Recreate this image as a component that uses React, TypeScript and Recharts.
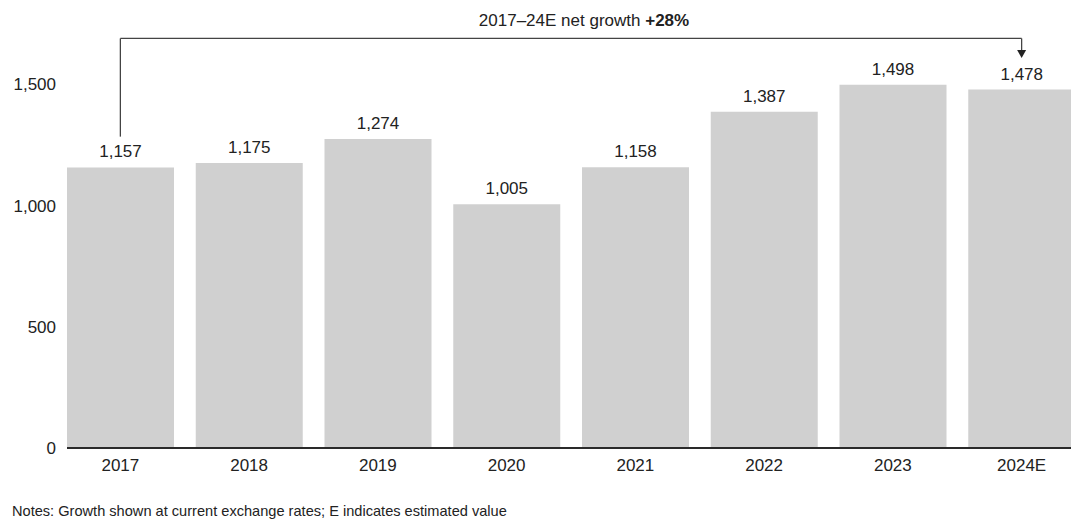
import { BarChart, Bar, XAxis, YAxis, LabelList, ReferenceLine, Label } from "recharts";

const YEARS = ["2017", "2018", "2019", "2020", "2021", "2022", "2023", "2024E"];
const VALUES = [1157, 1175, 1274, 1005, 1158, 1387, 1498, 1478];
const Y_TICKS = [0, 500, 1000, 1500];

// bracket levels, in data units
const BRACKET_TOP = 1689;
const BRACKET_START = 1284;
const BRACKET_END = 1608;

const NOTE = "Notes: Growth shown at current exchange rates; E indicates estimated value";

const data = YEARS.map((year, i) => ({ year, value: VALUES[i] }));

const TEXT = "#222222";
const FONT = "'Liberation Sans', Arial, sans-serif";

function fmt(v: number | string) {
  return Number(v).toLocaleString("en-US");
}

function ArrowLine(props: any) {
  const { x1, y1, x2, y2 } = props;
  const head = 8;
  return (
    <g>
      <line x1={x1} y1={y1} x2={x2} y2={y2 - head} stroke="#444" strokeWidth={1.3} />
      <polygon
        points={`${x2 - 4.5},${y2 - head} ${x2 + 4.5},${y2 - head} ${x2},${y2}`}
        fill="#222"
      />
    </g>
  );
}

function TitleLabel(props: any) {
  const vb = props.viewBox || { x: 120, y: 38, width: 902 };
  const cx = vb.x + vb.width / 2 + 13;
  return (
    <text x={cx} y={vb.y - 12} textAnchor="middle" fill={TEXT} fontSize={17} fontFamily={FONT}>
      2017–24E net growth <tspan fontWeight="bold">+28%</tspan>
    </text>
  );
}

export default function App() {
  return (
    <div
      style={{
        position: "absolute",
        left: 0,
        top: 0,
        width: 1071,
        height: 519,
        overflow: "hidden",
        background: "#fff",
        fontFamily: FONT,
      }}
    >
      <BarChart
        width={1086}
        height={478}
        data={data}
        margin={{ top: 60, right: 0, bottom: 0, left: 0 }}
      >
        <XAxis
          dataKey="year"
          padding={{ left: -11, right: 0 }}
          tickLine={false}
          tickSize={0}
          tickMargin={11}
          height={30}
          axisLine={{ stroke: "#2a2a2a", strokeWidth: 2 }}
          tick={{ fill: TEXT, fontSize: 17, fontFamily: FONT }}
        />
        <YAxis
          domain={[0, 1600]}
          ticks={Y_TICKS}
          width={67}
          axisLine={false}
          tickLine={false}
          tickSize={0}
          tickMargin={11}
          tickFormatter={fmt}
          tick={{ fill: TEXT, fontSize: 17, fontFamily: FONT }}
        />
        <Bar dataKey="value" fill="#d0d0d0" barSize={107} isAnimationActive={false}>
          <LabelList
            dataKey="value"
            position="top"
            offset={10}
            formatter={fmt}
            fill={TEXT}
            fontSize={17}
            fontFamily={FONT}
          />
        </Bar>
        <ReferenceLine
          segment={[
            { x: "2017", y: BRACKET_START },
            { x: "2017", y: BRACKET_TOP },
          ]}
          stroke="#444"
          strokeWidth={1.3}
          ifOverflow="visible"
        />
        <ReferenceLine
          segment={[
            { x: "2017", y: BRACKET_TOP },
            { x: "2024E", y: BRACKET_TOP },
          ]}
          stroke="#444"
          strokeWidth={1.3}
          ifOverflow="visible"
        >
          <Label content={<TitleLabel />} />
        </ReferenceLine>
        <ReferenceLine
          segment={[
            { x: "2024E", y: BRACKET_TOP },
            { x: "2024E", y: BRACKET_END },
          ]}
          ifOverflow="visible"
          shape={ArrowLine}
        />
      </BarChart>
      <div
        style={{
          position: "absolute",
          left: 12,
          top: 502,
          fontSize: 14.6,
          lineHeight: "18px",
          color: TEXT,
        }}
      >
        {NOTE}
      </div>
    </div>
  );
}
